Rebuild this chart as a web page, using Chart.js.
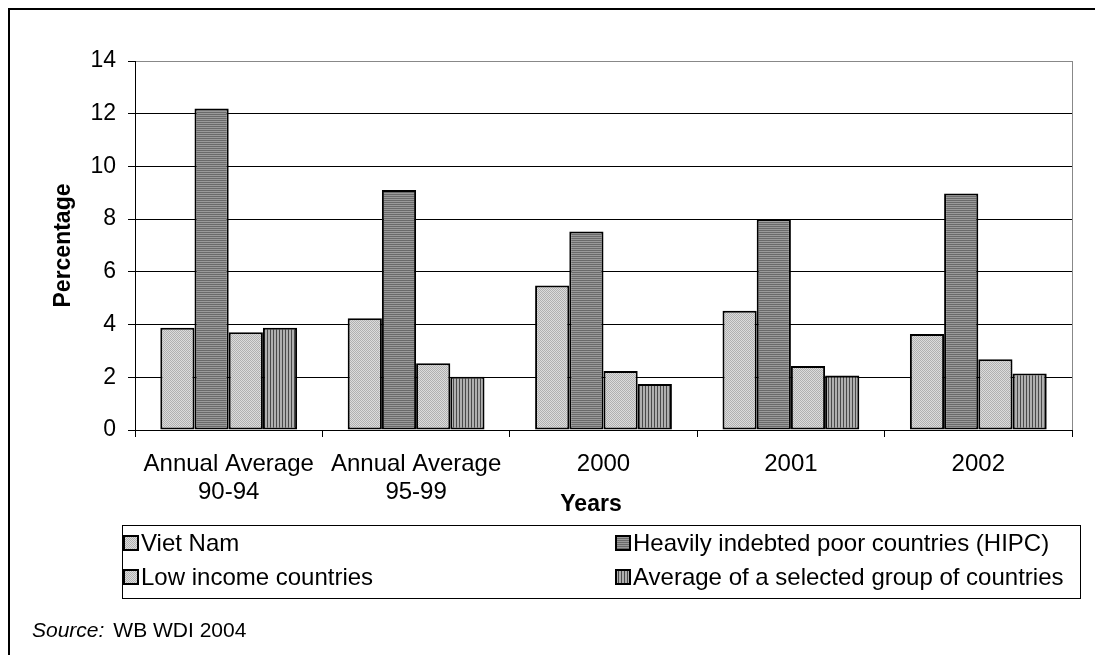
<!DOCTYPE html>
<html>
<head>
<meta charset="utf-8">
<script src="https://cdn.jsdelivr.net/npm/chart.js@4/dist/chart.umd.min.js"></script>
<style>
  html, body { margin: 0; padding: 0; background: #fff; }
  canvas { display: block; }
</style>
</head>
<body>
<canvas id="chart" width="1095" height="655"></canvas>
<script>
// Categories (x axis)
const categories = [['Annual Average', '90-94'], ['Annual Average', '95-99'], '2000', '2001', '2002'];

// Series values (percentage)
const vietNam        = [3.88, 4.24, 5.48, 4.52, 3.64];
const hipc           = [12.2, 9.11, 7.53, 8.00, 8.97];
const lowIncome      = [3.71, 2.53, 2.24, 2.43, 2.68];
const selectedGroup  = [3.88, 2.02, 1.75, 2.07, 2.14];

// Series names
const seriesNames = [
  'Viet Nam',
  'Heavily indebted poor countries (HIPC)',
  'Low income countries',
  'Average of a selected group of countries'
];

// Y axis range
const yMin = 0, yMax = 14, yStep = 2;

const FONT = '"Liberation Sans", Arial, sans-serif';

// Small repeating fills for the bars
function makePattern(w, h, paint) {
  const c = document.createElement('canvas');
  c.width = w; c.height = h;
  const g = c.getContext('2d');
  paint(g);
  return g.createPattern(c, 'repeat');
}
const dotted = makePattern(2, 2, g => {
  g.fillStyle = '#dcdcdc'; g.fillRect(0, 0, 2, 2);
  g.fillStyle = '#b0b0b0'; g.fillRect(0, 0, 1, 1); g.fillRect(1, 1, 1, 1);
});
const hLines = makePattern(2, 2, g => {
  g.fillStyle = '#9a9a9a'; g.fillRect(0, 0, 2, 2);
  g.fillStyle = '#6a6a6a'; g.fillRect(0, 0, 2, 1);
});
const vLines = makePattern(3, 3, g => {
  g.fillStyle = '#b0b0b0'; g.fillRect(0, 0, 3, 3);
  g.fillStyle = '#4a4a4a'; g.fillRect(0, 0, 1, 3);
});

const fills = [dotted, hLines, dotted, vLines];
const seriesData = [vietNam, hipc, lowIncome, selectedGroup];

// Frame, axis titles, legend box and source note
const decorations = {
  id: 'decorations',
  afterDraw(chart) {
    const ctx = chart.ctx;
    const a = chart.chartArea;
    ctx.save();

    // outer frame
    ctx.strokeStyle = '#000';
    ctx.lineWidth = 2;
    ctx.beginPath();
    ctx.moveTo(9, 700); ctx.lineTo(9, 9); ctx.lineTo(1200, 9);
    ctx.stroke();

    // plot area right edge
    ctx.strokeStyle = '#888';
    ctx.lineWidth = 1;
    ctx.beginPath();
    ctx.moveTo(Math.round(a.right) + 0.5, a.top);
    ctx.lineTo(Math.round(a.right) + 0.5, a.bottom);
    ctx.stroke();

    ctx.fillStyle = '#000';
    // y title
    ctx.font = 'bold 23px ' + FONT;
    ctx.textAlign = 'center';
    ctx.textBaseline = 'middle';
    ctx.save();
    ctx.translate(64, (a.top + a.bottom) / 2);
    ctx.rotate(-Math.PI / 2);
    ctx.fillText('Percentage', 0, 0);
    ctx.restore();
    // x title
    ctx.fillText('Years', 591, 505);

    // legend
    const lx = 122.5, ly = 525.5, lw = 958, lh = 73;
    ctx.strokeStyle = '#000';
    ctx.lineWidth = 1;
    ctx.strokeRect(lx, ly, lw, lh);
    const cols = [124, 616];
    const rows = [543, 577];
    const order = [0, 1, 2, 3];
    ctx.font = '24px ' + FONT;
    ctx.textAlign = 'left';
    order.forEach((di, k) => {
      const ds = chart.data.datasets[di];
      const x = cols[k % 2], y = rows[Math.floor(k / 2)];
      ctx.fillStyle = ds.backgroundColor;
      ctx.fillRect(x, y - 7, 14, 14);
      ctx.strokeStyle = '#000';
      ctx.lineWidth = 2;
      ctx.strokeRect(x, y - 7, 14, 14);
      ctx.fillStyle = '#000';
      ctx.fillText(ds.label, x + 17, y + 1);
    });

    // source note
    ctx.font = 'italic 21px ' + FONT;
    ctx.fillText('Source:', 32, 631);
    const sw = ctx.measureText('Source:').width;
    ctx.font = '21px ' + FONT;
    ctx.fillText('WB WDI 2004', 32 + sw + 9, 631);

    ctx.restore();
  }
};

new Chart(document.getElementById('chart'), {
  type: 'bar',
  data: {
    labels: categories,
    datasets: seriesData.map((d, i) => ({
      label: seriesNames[i],
      data: d,
      backgroundColor: fills[i],
      borderColor: '#000',
      borderWidth: 2,
      borderSkipped: false,
      barPercentage: 1,
      categoryPercentage: 0.73
    }))
  },
  options: {
    responsive: false,
    animation: false,
    devicePixelRatio: 1,
    layout: { padding: { top: 61, right: 23, left: 0, bottom: 0 } },
    plugins: { legend: { display: false }, tooltip: { enabled: false } },
    scales: {
      x: {
        offset: true,
        grid: {
          offset: true,
          drawOnChartArea: false,
          drawTicks: true,
          tickLength: 7,
          tickColor: c => (c.index === categories.length ? '#888' : '#000')
        },
        border: { color: '#000', width: 1 },
        ticks: {
          color: '#000',
          font: { family: FONT, size: 24, lineHeight: 1.15 },
          padding: 14,
          maxRotation: 0,
          autoSkip: false
        },
        afterFit: s => { s.height = 225; }
      },
      y: {
        min: yMin,
        max: yMax,
        ticks: {
          stepSize: yStep,
          color: '#000',
          font: { family: FONT, size: 23 },
          padding: 12
        },
        grid: {
          color: c => (c.tick && c.tick.value === yMax ? '#888' : '#000'),
          tickColor: '#000',
          tickLength: 7,
          lineWidth: 1
        },
        border: { color: '#000', width: 1 },
        afterFit: s => { s.width = 135; }
      }
    }
  },
  plugins: [decorations]
});
</script>
</body>
</html>
